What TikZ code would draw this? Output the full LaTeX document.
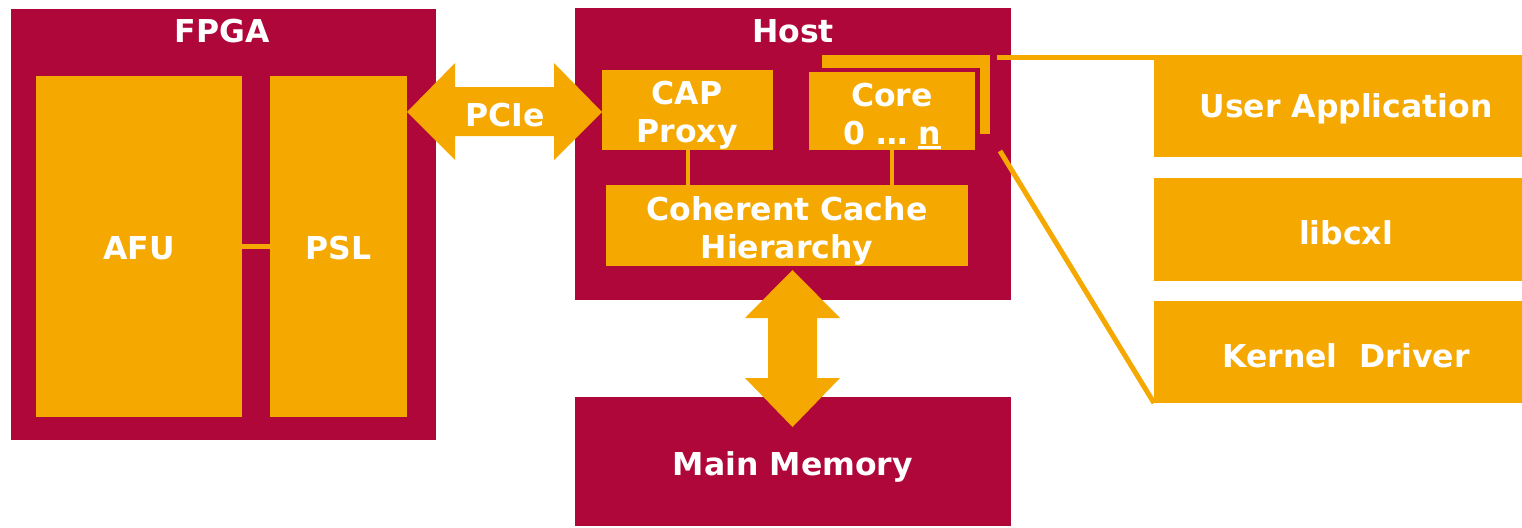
\documentclass[tikz,border=0pt]{standalone}
\usepackage{fontspec}
\setmainfont{DejaVu Sans}
\usetikzlibrary{calc}
\definecolor{crimson}{RGB}{176,7,58}
\definecolor{amber}{RGB}{245,168,0}
% underline drawn as a thick rule
\newcommand\thickul[1]{\setbox0\hbox{#1}\rlap{\rule[-5pt]{\wd0}{2.8pt}}\box0}
\tikzset{
  base/.style={rectangle, inner sep=0pt, outer sep=0pt, draw=none},
  redbox/.style={base, fill=crimson},
  orbox/.style={base, fill=amber},
  txt/.style={text=white, font=\fontsize{31.5}{38}\selectfont\bfseries, align=center, inner sep=0pt, yshift=-2pt},
  txt2/.style={txt, yshift=-2pt},
  conn/.style={draw=amber, line width=5pt},
  thin conn/.style={draw=amber, line width=4pt},
}
\begin{document}
\begin{tikzpicture}[x=1pt, y=-1pt]
\useasboundingbox (0,0) rectangle (1522,527);

% FPGA side
\node[redbox, minimum width=425pt, minimum height=431pt] (fpga) at (223.5,224.5) {};
\node[txt] (fpgat) at (222,29) {FPGA};
\node[orbox, minimum width=206pt, minimum height=341pt] (afu) at (139,246.5) {};
\node[orbox, minimum width=137pt, minimum height=341pt] (psl) at (338.5,246.5) {};
\draw[conn] (afu.east) -- (psl.west);
\node[txt] at (afu.center) {AFU};
\node[txt] at (psl.center) {PSL};

% Host
\node[redbox, minimum width=436pt, minimum height=292pt] (host) at (793,154) {};
\node[txt] (hostt) at (793,29) {Host};
% stacked cores behind the core box
\fill[amber] (822,55) rectangle (990,68);
\fill[amber] (980,55) rectangle (990,134);
\node[orbox, minimum width=171pt, minimum height=80pt] (cap) at (687.5,110) {};
\node[orbox, minimum width=166pt, minimum height=78pt] (core) at (892,111) {};
\node[orbox, minimum width=362pt, minimum height=81pt] (cache) at (787,225.5) {};
\draw[thin conn] (cap.south) -- (cap.south |- cache.north);
\draw[thin conn] (core.south) -- (core.south |- cache.north);
\node[txt2] at (687,111) {CAP\\Proxy};
\node[txt2] at (892,112) {Core\\0 … \thickul{n}};
\node[txt2] at (787,227) {Coherent Cache\\Hierarchy};

% Main memory
\node[redbox, minimum width=436pt, minimum height=129pt] (mem) at (793,461.5) {};
\node[txt] at (793,465) {Main Memory};

% PCIe link between PSL and CAP proxy
\fill[amber] (psl.east |- 0,112) -- (455,63) -- (455,87) -- (554,87) -- (554,63)
  -- (cap.west |- 0,112) -- (554,160) -- (554,136) -- (455,136) -- (455,160) -- cycle;
\node[txt] (pcie) at (505,113) {PCIe};

% memory bus between cache and main memory
\fill[amber] (792.5,270) -- (840,318) -- (817,318) -- (817,378) -- (840,378)
  -- (792.5,427) -- (745,378) -- (768,378) -- (768,318) -- (745,318) -- cycle;

% software stack
\node[orbox, minimum width=368pt, minimum height=102pt] (ua) at (1338,106) {};
\node[orbox, minimum width=368pt, minimum height=103pt] (lib) at (1338,229.5) {};
\node[orbox, minimum width=368pt, minimum height=102pt] (kd) at (1338,352) {};
\node[txt] at (1346,107) {User Application};
\node[txt] at (1346,231) {libcxl};
\node[txt] at (1346,354) {Kernel\ \ Driver};

% callout from the cores to the stack
\coordinate (ctop) at (997,57.5);
\coordinate (cbot) at (1000,151);
\draw[conn] (ctop) -- (ua.north west |- ctop);
\draw[conn] (cbot) -- (kd.south west);
\end{tikzpicture}
\end{document}
